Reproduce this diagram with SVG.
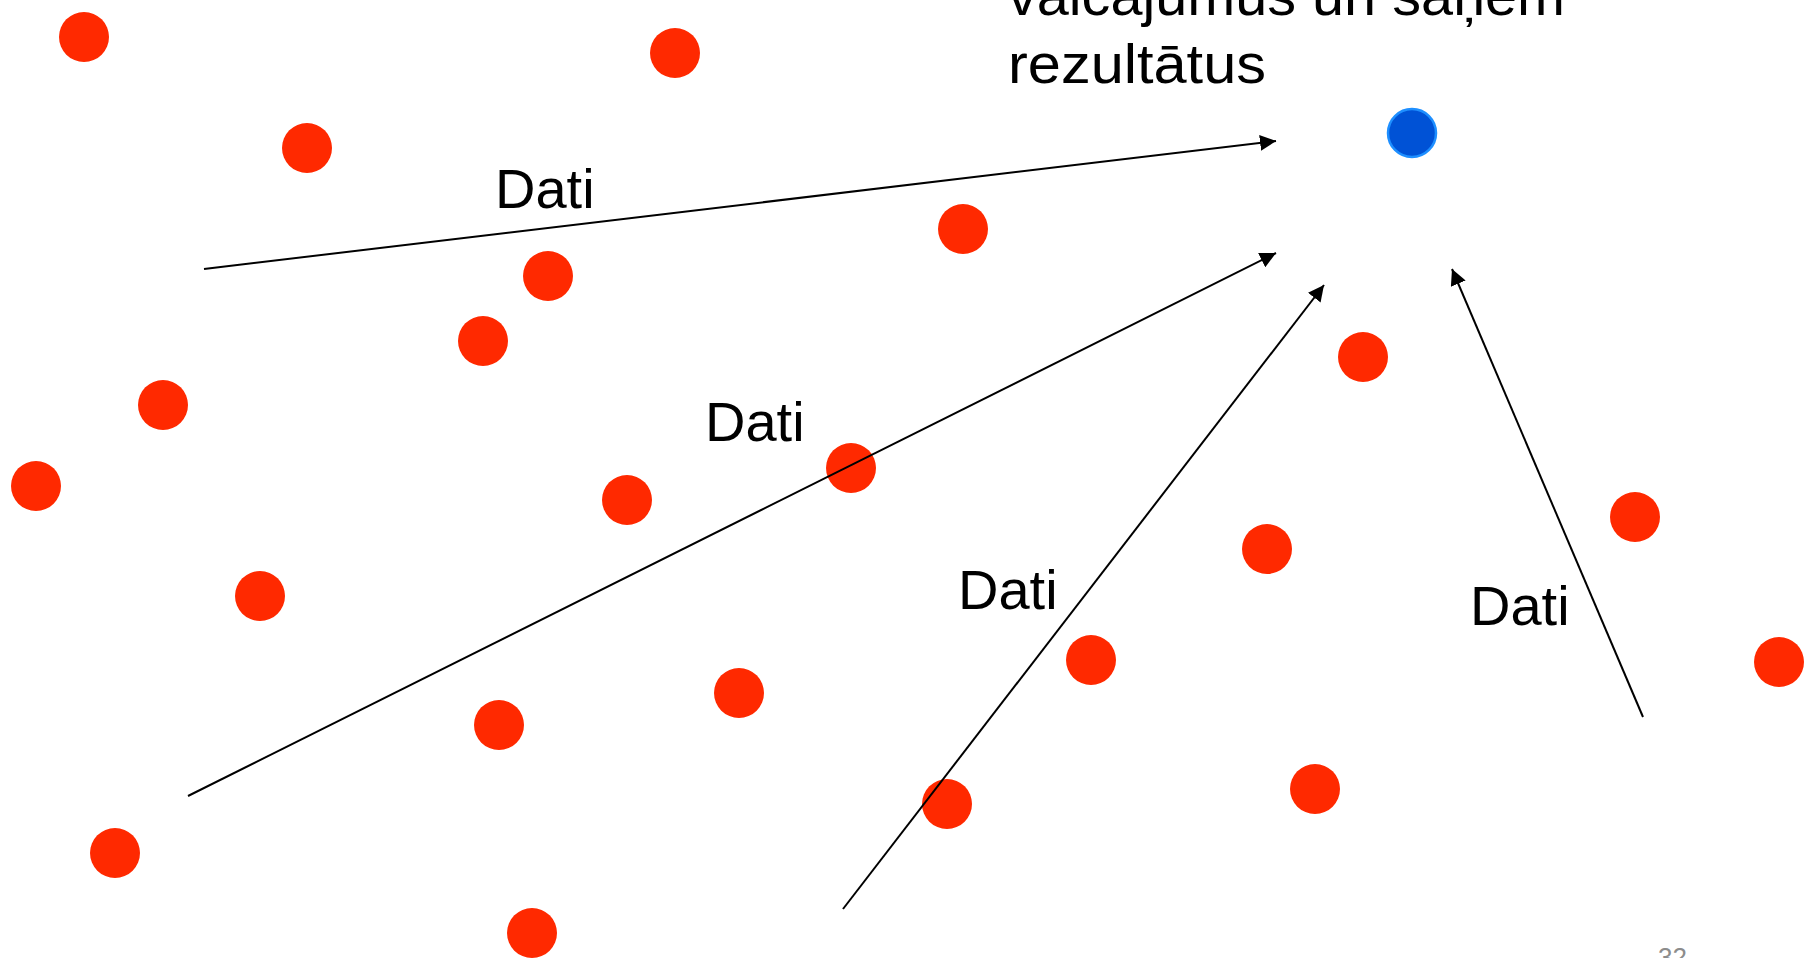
<svg xmlns="http://www.w3.org/2000/svg" width="1804" height="958" viewBox="0 0 1804 958">
<style>
.dot{fill:#FF2900}
.q{fill:#0052D6;stroke:#1E8FFF;stroke-width:2.5}
.t{font-family:"Liberation Sans",Arial,sans-serif;font-size:56px;fill:#000}
.pg{font-family:"Liberation Sans",Arial,sans-serif;font-size:26px;fill:#8C8C8C}
.c{stroke:#000;stroke-width:2;fill:none;marker-end:url(#ah)}
</style>
<defs>
<marker id="ah" viewBox="0 0 10 10" refX="10" refY="5" markerWidth="8" markerHeight="8" markerUnits="strokeWidth" orient="auto">
<path d="M0,0 L10,5 L0,10 z" fill="#000"/>
</marker>
</defs>
<rect width="1804" height="958" fill="#fff"/>
<g id="dots">
<circle id="d1" class="dot" cx="84" cy="37" r="25"/>
<circle id="d2" class="dot" cx="675" cy="53" r="25"/>
<circle id="d3" class="dot" cx="307" cy="148" r="25"/>
<circle id="d4" class="dot" cx="963" cy="229" r="25"/>
<circle id="d5" class="dot" cx="548" cy="276" r="25"/>
<circle id="d6" class="dot" cx="483" cy="341" r="25"/>
<circle id="d7" class="dot" cx="163" cy="405" r="25"/>
<circle id="d8" class="dot" cx="36" cy="486" r="25"/>
<circle id="d9" class="dot" cx="627" cy="500" r="25"/>
<circle id="d10" class="dot" cx="851" cy="468" r="25"/>
<circle id="d11" class="dot" cx="1363" cy="357" r="25"/>
<circle id="d12" class="dot" cx="1267" cy="549" r="25"/>
<circle id="d13" class="dot" cx="1635" cy="517" r="25"/>
<circle id="d14" class="dot" cx="1779" cy="662" r="25"/>
<circle id="d15" class="dot" cx="260" cy="596" r="25"/>
<circle id="d16" class="dot" cx="1091" cy="660" r="25"/>
<circle id="d17" class="dot" cx="739" cy="693" r="25"/>
<circle id="d18" class="dot" cx="499" cy="725" r="25"/>
<circle id="d19" class="dot" cx="1315" cy="789" r="25"/>
<circle id="d20" class="dot" cx="947" cy="804" r="25"/>
<circle id="d21" class="dot" cx="115" cy="853" r="25"/>
<circle id="d22" class="dot" cx="532" cy="933" r="25"/>
</g>
<g id="query">
<circle class="q" cx="1412" cy="133" r="24"/>
</g>
<g id="connectors">
<line class="c" x1="204" y1="269" x2="1276" y2="141"/>
<line class="c" x1="188" y1="796" x2="1276" y2="253"/>
<line class="c" x1="843" y1="909" x2="1324" y2="285"/>
<line class="c" x1="1643" y1="717" x2="1452" y2="269"/>
</g>
<g id="labels">
<text class="t" x="495" y="208">Dati</text>
<text class="t" x="705" y="441">Dati</text>
<text class="t" x="958" y="609">Dati</text>
<text class="t" x="1470" y="625">Dati</text>
<text class="t" x="1008" y="15" textLength="557" lengthAdjust="spacingAndGlyphs">vaicājumus un saņem</text>
<text class="t" x="1008" y="83" textLength="258" lengthAdjust="spacingAndGlyphs">rezultātus</text>
<text class="pg" x="1658" y="966">32</text>
</g>
</svg>
